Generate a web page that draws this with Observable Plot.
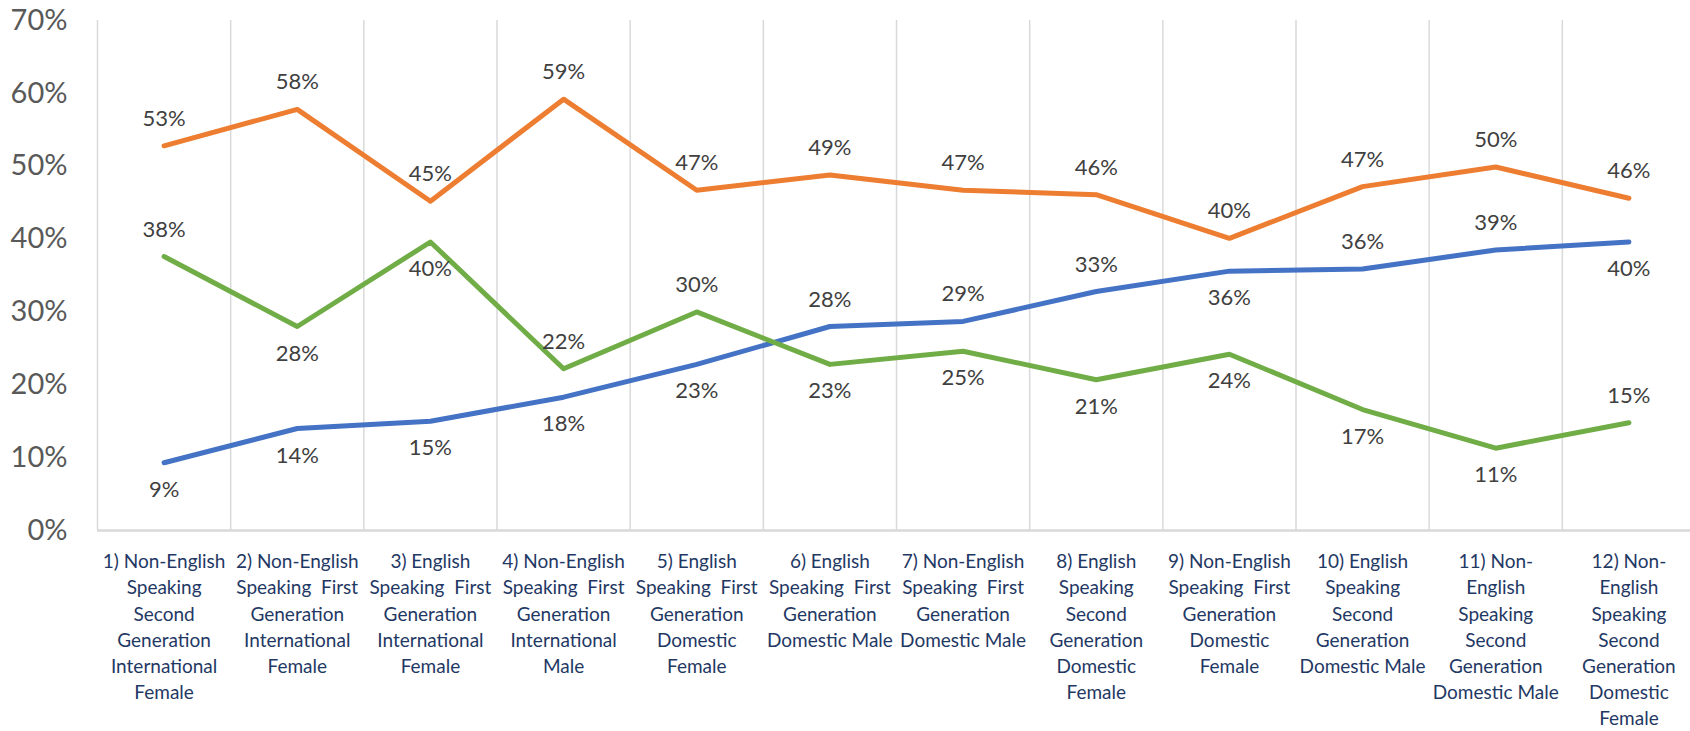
<!DOCTYPE html>
<html>
<head>
<meta charset="utf-8">
<script src="https://cdn.jsdelivr.net/npm/d3@7"></script>
<script src="https://cdn.jsdelivr.net/npm/@observablehq/plot@0.6"></script>
<style>
  html, body { margin: 0; padding: 0; background: #ffffff; }
  #chart { width: 1690px; height: 731px; overflow: hidden; }
</style>
</head>
<body>
<div id="chart"></div>
<script>
// ---- Data ----
const categories = [
  "1) Non-English\nSpeaking\nSecond\nGeneration\nInternational\nFemale",
  "2) Non-English\nSpeaking  First\nGeneration\nInternational\nFemale",
  "3) English\nSpeaking  First\nGeneration\nInternational\nFemale",
  "4) Non-English\nSpeaking  First\nGeneration\nInternational\nMale",
  "5) English\nSpeaking  First\nGeneration\nDomestic\nFemale",
  "6) English\nSpeaking  First\nGeneration\nDomestic Male",
  "7) Non-English\nSpeaking  First\nGeneration\nDomestic Male",
  "8) English\nSpeaking\nSecond\nGeneration\nDomestic\nFemale",
  "9) Non-English\nSpeaking  First\nGeneration\nDomestic\nFemale",
  "10) English\nSpeaking\nSecond\nGeneration\nDomestic Male",
  "11) Non-\nEnglish\nSpeaking\nSecond\nGeneration\nDomestic Male",
  "12) Non-\nEnglish\nSpeaking\nSecond\nGeneration\nDomestic\nFemale"
];
const orangeValues = [0.528, 0.578, 0.452, 0.592, 0.467, 0.488, 0.467, 0.461, 0.401, 0.472, 0.499, 0.456];
const blueValues   = [0.093, 0.140, 0.150, 0.183, 0.228, 0.280, 0.287, 0.328, 0.356, 0.359, 0.385, 0.396];
const greenValues  = [0.376, 0.280, 0.396, 0.222, 0.300, 0.228, 0.246, 0.207, 0.242, 0.166, 0.113, 0.148];
const yTicks = [0, 0.1, 0.2, 0.3, 0.4, 0.5, 0.6, 0.7];

// label placement: -1 above the line, +1 below
const orangeSide = [-1,-1,-1,-1,-1,-1,-1,-1,-1,-1,-1,-1];
const blueSide   = [ 1, 1, 1, 1, 1,-1,-1,-1, 1,-1,-1, 1];
const greenSide  = [-1, 1, 1,-1,-1, 1, 1, 1, 1, 1, 1,-1];

const seriesNames = ["Series A", "Series B", "Series C"];
const seriesColors = ["#ED7D31", "#4472C4", "#70AD47"];

// ---- Build table ----
const table = [];
[[orangeValues, orangeSide], [blueValues, blueSide], [greenValues, greenSide]].forEach(([vals, sides], s) => {
  vals.forEach((v, i) => table.push({series: seriesNames[s], i, value: v, side: sides[i]}));
});
const idx = categories.map((_, i) => i);
const boundaries = idx.map(i => i - 0.5);
const pct = d3.format(".0%");

const W = 1690, H = 731;
const padLeft = 97, frameRight = 1695, frameTop = 20, frameBottom = 530;

const chart = Plot.plot({
  width: W,
  height: H,
  marginLeft: padLeft,
  marginRight: 0,
  marginTop: frameTop,
  marginBottom: H - frameBottom,
  style: {fontFamily: "Lato, 'Open Sans', sans-serif", background: "#ffffff", overflow: "visible"},
  x: {type: "linear", domain: [-0.5, categories.length - 0.5], range: [padLeft, frameRight], axis: null},
  y: {domain: [0, 0.7], range: [frameBottom, frameTop], axis: null},
  color: {domain: seriesNames, range: seriesColors},
  marks: [
    Plot.ruleX(boundaries, {x: d => d, stroke: "#d9d9d9", strokeWidth: 1.5}),
    Plot.ruleY([0], {stroke: "#d9d9d9", strokeWidth: 2.5}),
    // y tick labels
    Plot.text(yTicks, {
      y: d => d, frameAnchor: "left", text: d => pct(d), textAnchor: "end",
      dx: -30, fontSize: 29, fill: "#595959"
    }),
    // x category labels
    Plot.text(idx, {
      x: d => d, frameAnchor: "bottom", text: d => categories[d], textAnchor: "middle",
      lineAnchor: "top", dy: 19, fontSize: 19, lineHeight: 1.38, fill: "#1F3864"
    }),
    Plot.line(table, {
      x: "i", y: "value", z: "series", stroke: "series",
      strokeWidth: 5, strokeLinecap: "round", strokeLinejoin: "round"
    }),
    // data labels above
    Plot.text(table.filter(d => d.side < 0), {
      x: "i", y: "value", text: d => pct(d.value), dy: -27,
      fontSize: 22, fill: "#404040"
    }),
    // data labels below
    Plot.text(table.filter(d => d.side > 0), {
      x: "i", y: "value", text: d => pct(d.value), dy: 27,
      fontSize: 22, fill: "#404040"
    })
  ]
});
document.getElementById("chart").appendChild(chart);
</script>
</body>
</html>
